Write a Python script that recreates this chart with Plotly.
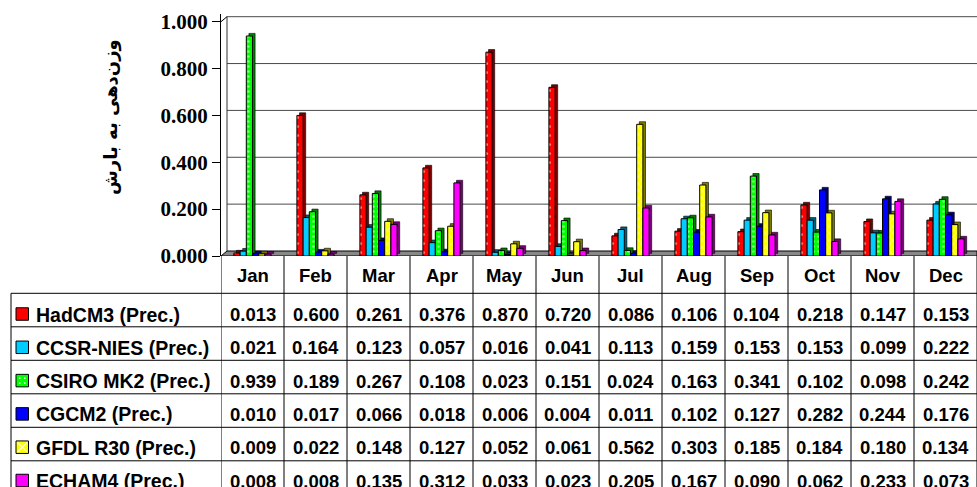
import plotly.graph_objects as go

# ---- data -------------------------------------------------------------
months = ["Jan", "Feb", "Mar", "Apr", "May", "Jun",
          "Jul", "Aug", "Sep", "Oct", "Nov", "Dec"]
series_names = ["HadCM3 (Prec.)", "CCSR-NIES (Prec.)", "CSIRO MK2 (Prec.)",
                "CGCM2 (Prec.)", "GFDL R30 (Prec.)", "ECHAM4 (Prec.)"]
hadcm3 = [0.013, 0.600, 0.261, 0.376, 0.870, 0.720, 0.086, 0.106, 0.104, 0.218, 0.147, 0.153]
ccsr_nies = [0.021, 0.164, 0.123, 0.057, 0.016, 0.041, 0.113, 0.159, 0.153, 0.153, 0.099, 0.222]
csiro_mk2 = [0.939, 0.189, 0.267, 0.108, 0.023, 0.151, 0.024, 0.163, 0.341, 0.102, 0.098, 0.242]
cgcm2 = [0.010, 0.017, 0.066, 0.018, 0.006, 0.004, 0.011, 0.102, 0.127, 0.282, 0.244, 0.176]
gfdl_r30 = [0.009, 0.022, 0.148, 0.127, 0.052, 0.061, 0.562, 0.303, 0.185, 0.184, 0.180, 0.134]
echam4 = [0.008, 0.008, 0.135, 0.312, 0.033, 0.023, 0.205, 0.167, 0.090, 0.062, 0.233, 0.073]
y_tick_values = [0.0, 0.2, 0.4, 0.6, 0.8, 1.0]
y_title = "وزن\u200cدهی به بارش"

series_values = [hadcm3, ccsr_nies, csiro_mk2, cgcm2, gfdl_r30, echam4]

# ---- styling ----------------------------------------------------------
face_colors = ["#FF0000", "#00CCFF", "#00FF00", "#0000FF", "#FFFF00", "#FF00FF"]
side_colors = ["#7A0000", "#00607A", "#007A00", "#00007A", "#7A7A00", "#7A007A"]
patterns = [
    dict(shape=".", fgcolor="white", size=9, solidity=0.09),
    None,
    dict(shape=".", fgcolor="white", size=5, solidity=0.22),
    None,
    dict(shape="x", fgcolor="white", size=5, solidity=0.25),
    None,
]

W, H = 977, 487
LEFT, TOP, BOTTOM_PX = 221, 14, 256
PW = W - LEFT
PH = BOTTOM_PX - TOP
PX_PER_UNIT = 234.3          # pixels per 1.0 on the value axis
CAT_PX = PW / len(months)    # pixels per month column

TABLE_FONT = dict(family="Liberation Sans", size=18.5, color="black", weight="bold")
NAME_FONT = dict(family="Liberation Sans", size=19.5, color="black", weight="bold")


def paper_x(p):
    return (p - LEFT) / PW


def paper_y(p):
    return (BOTTOM_PX - p) / PH


# bar geometry (in category units / value units)
bar_px = 6.2
bar_w = bar_px / CAT_PX
first_off = -18.6 / CAT_PX
depth_dx = 2.6 / CAT_PX
depth_dy = 2.6 / PX_PER_UNIT
wall_dy = 5.0 / PX_PER_UNIT
wall_dx_px = 6.0

idx = list(range(len(months)))
fig = go.Figure()

# side/top faces first, so the front faces sit over them
for i, vals in enumerate(series_values):
    fig.add_trace(go.Bar(
        x=idx, y=vals, base=depth_dy, width=bar_w,
        offset=first_off + i * bar_w + depth_dx,
        marker=dict(color=side_colors[i], line=dict(color="black", width=0.6)),
        showlegend=False, hoverinfo="skip",
    ))

for i, vals in enumerate(series_values):
    marker = dict(color=face_colors[i], line=dict(color="black", width=1))
    if patterns[i]:
        marker["pattern"] = patterns[i]
    fig.add_trace(go.Bar(
        x=idx, y=vals, width=bar_w, offset=first_off + i * bar_w,
        marker=marker, name=series_names[i], showlegend=False,
    ))

shapes = []

# back-wall gridlines
for v in y_tick_values[1:]:
    shapes.append(dict(type="line", xref="paper", yref="y",
                       x0=paper_x(LEFT + wall_dx_px), x1=1, y0=v + wall_dy, y1=v + wall_dy,
                       line=dict(color="#4A4A4A", width=1), layer="below"))
# left wall edge and its top corner
shapes.append(dict(type="line", xref="paper", yref="y",
                   x0=paper_x(LEFT + wall_dx_px), x1=paper_x(LEFT + wall_dx_px),
                   y0=wall_dy, y1=1.0 + wall_dy,
                   line=dict(color="#333333", width=1), layer="below"))
shapes.append(dict(type="line", xref="paper", yref="y",
                   x0=0, x1=paper_x(LEFT + wall_dx_px), y0=1.0, y1=1.0 + wall_dy,
                   line=dict(color="black", width=1), layer="below"))
# floor
fx = paper_x(LEFT + wall_dx_px)
shapes.append(dict(type="path", xref="paper", yref="y",
                   path=f"M 0,0 L 1,0 L 1,{wall_dy} L {fx},{wall_dy} Z",
                   fillcolor="#888888", line=dict(color="black", width=1), layer="below"))

# ---- data table -------------------------------------------------------
row_lines = [293.3 + 33.5 * k for k in range(6)]
row_text_y = [314 + 33.3 * k for k in range(6)]
table_left = 11

for yl in row_lines:
    shapes.append(dict(type="line", xref="paper", yref="paper",
                       x0=paper_x(table_left), x1=1, y0=paper_y(yl), y1=paper_y(yl),
                       line=dict(color="black", width=1)))
shapes.append(dict(type="line", xref="paper", yref="paper",
                   x0=paper_x(table_left), x1=paper_x(table_left),
                   y0=paper_y(row_lines[0]), y1=paper_y(H + 2),
                   line=dict(color="black", width=1)))
for k in range(len(months) + 1):
    shapes.append(dict(type="line", xref="x", yref="paper",
                       x0=k - 0.5, x1=k - 0.5, y0=0, y1=paper_y(H + 2),
                       line=dict(color="black", width=1)))

annotations = []
for j, m in enumerate(months):
    annotations.append(dict(x=j, xref="x", y=paper_y(275), yref="paper", text=m,
                            showarrow=False, xanchor="center", yanchor="middle",
                            font=TABLE_FONT))

key_size = 12.5
for i, name in enumerate(series_names):
    yc = row_text_y[i]
    shapes.append(dict(type="rect", xref="paper", yref="paper",
                       x0=paper_x(16), x1=paper_x(16 + key_size),
                       y0=paper_y(yc - key_size / 2), y1=paper_y(yc + key_size / 2),
                       fillcolor=face_colors[i], line=dict(color="black", width=1)))
    annotations.append(dict(x=paper_x(34), xref="paper", y=paper_y(yc + 0.5), yref="paper",
                            text=name, showarrow=False, xanchor="left", yanchor="middle",
                            font=NAME_FONT))
    for j, v in enumerate(series_values[i]):
        annotations.append(dict(x=j, xref="x", y=paper_y(yc + 0.5), yref="paper",
                                text=f"{v:.3f}", showarrow=False,
                                xanchor="center", yanchor="middle",
                                font=TABLE_FONT))

# texture marks inside the patterned legend keys
gk = row_text_y[2]
for dxp, dyp in [(-2.5, -2.5), (2.5, 2.5), (2.5, -2.5), (-2.5, 2.5)]:
    cx, cy = 16 + key_size / 2 + dxp, gk + dyp
    shapes.append(dict(type="circle", xref="paper", yref="paper",
                       x0=paper_x(cx - 0.9), x1=paper_x(cx + 0.9),
                       y0=paper_y(cy - 0.9), y1=paper_y(cy + 0.9),
                       fillcolor="white", line=dict(width=0)))
yk = row_text_y[4]
for a, b in [((17.5, yk - 4.7), (27, yk + 4.7)), ((17.5, yk + 4.7), (27, yk - 4.7))]:
    shapes.append(dict(type="line", xref="paper", yref="paper",
                       x0=paper_x(a[0]), y0=paper_y(a[1]), x1=paper_x(b[0]), y1=paper_y(b[1]),
                       line=dict(color="white", width=1.3)))

# value-axis title
annotations.append(dict(x=paper_x(111), xref="paper", y=paper_y(117), yref="paper",
                        text=y_title, textangle=-90, showarrow=False,
                        xanchor="center", yanchor="middle",
                        font=dict(family="DejaVu Sans", size=18, color="black",
                                  weight="bold")))

fig.update_layout(
    width=W, height=H,
    margin=dict(l=LEFT, r=0, t=TOP, b=H - BOTTOM_PX, pad=0),
    paper_bgcolor="white", plot_bgcolor="white",
    barmode="overlay",
    showlegend=False,
    xaxis=dict(range=[-0.5, len(months) - 0.5], showticklabels=False, showgrid=False,
               zeroline=False, showline=False, ticks=""),
    yaxis=dict(range=[0, PH / PX_PER_UNIT], tickvals=y_tick_values, tickformat=".3f",
               showgrid=False, zeroline=False, showline=True, linecolor="black",
               linewidth=1, ticks="outside", ticklen=8, tickcolor="black",
               tickfont=dict(family="Liberation Serif", size=21, color="black",
                             weight="bold")),
    shapes=shapes,
    annotations=annotations,
)

fig.write_html("out.html")
